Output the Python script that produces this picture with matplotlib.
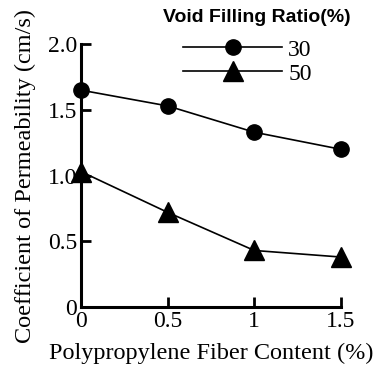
import matplotlib
matplotlib.use("Agg")
import matplotlib.pyplot as plt

fiber_content = [0, 0.5, 1, 1.5]
perm_30 = [1.65, 1.53, 1.33, 1.20]
perm_50 = [1.03, 0.72, 0.43, 0.38]
series_labels = ["30", "50"]
legend_title = "Void Filling Ratio(%)"

plt.rcParams['font.family'] = ['Liberation Serif', 'DejaVu Serif']

fig = plt.figure(figsize=(3.86, 3.65), dpi=100)
ax = fig.add_axes([0.21, 0.159, 0.673, 0.72])

ax.plot(fiber_content, perm_30, color='black', lw=1.2, marker='o', ms=11,
        label=series_labels[0], clip_on=False)
ax.plot(fiber_content, perm_50, color='black', lw=1.2, marker='^', ms=15,
        label=series_labels[1], clip_on=False)

ax.set_xlim(0, 1.5)
ax.set_ylim(0, 2.0)
ax.set_xticks([0, 0.5, 1, 1.5])
ax.set_xticklabels(["0", "0.5", "1", "1.5"])
ax.set_yticks([0, 0.5, 1.0, 1.5, 2.0])
ax.set_yticklabels(["0", "0.5", "1.0", "1.5", "2.0"])
ax.tick_params(direction='in', length=7, width=2, labelsize=17, pad=3)
for s in ['top', 'right']:
    ax.spines[s].set_visible(False)
for s in ['left', 'bottom']:
    ax.spines[s].set_linewidth(2.2)

ax.set_xlabel("Polypropylene Fiber Content (%)", fontsize=17.5, labelpad=8)
ax.set_ylabel("Coefficient of Permeability (cm/s)", fontsize=17.5, labelpad=8)

leg = ax.legend(loc='upper right', bbox_to_anchor=(0.97, 1.10), frameon=False,
                fontsize=17, handlelength=4.2, handletextpad=0.25, labelspacing=0.1)
fig.text(0.665, 0.953, legend_title, family='Liberation Sans', weight='bold',
         fontsize=14, ha='center', va='center')

fig.savefig("out.png", dpi=100)
